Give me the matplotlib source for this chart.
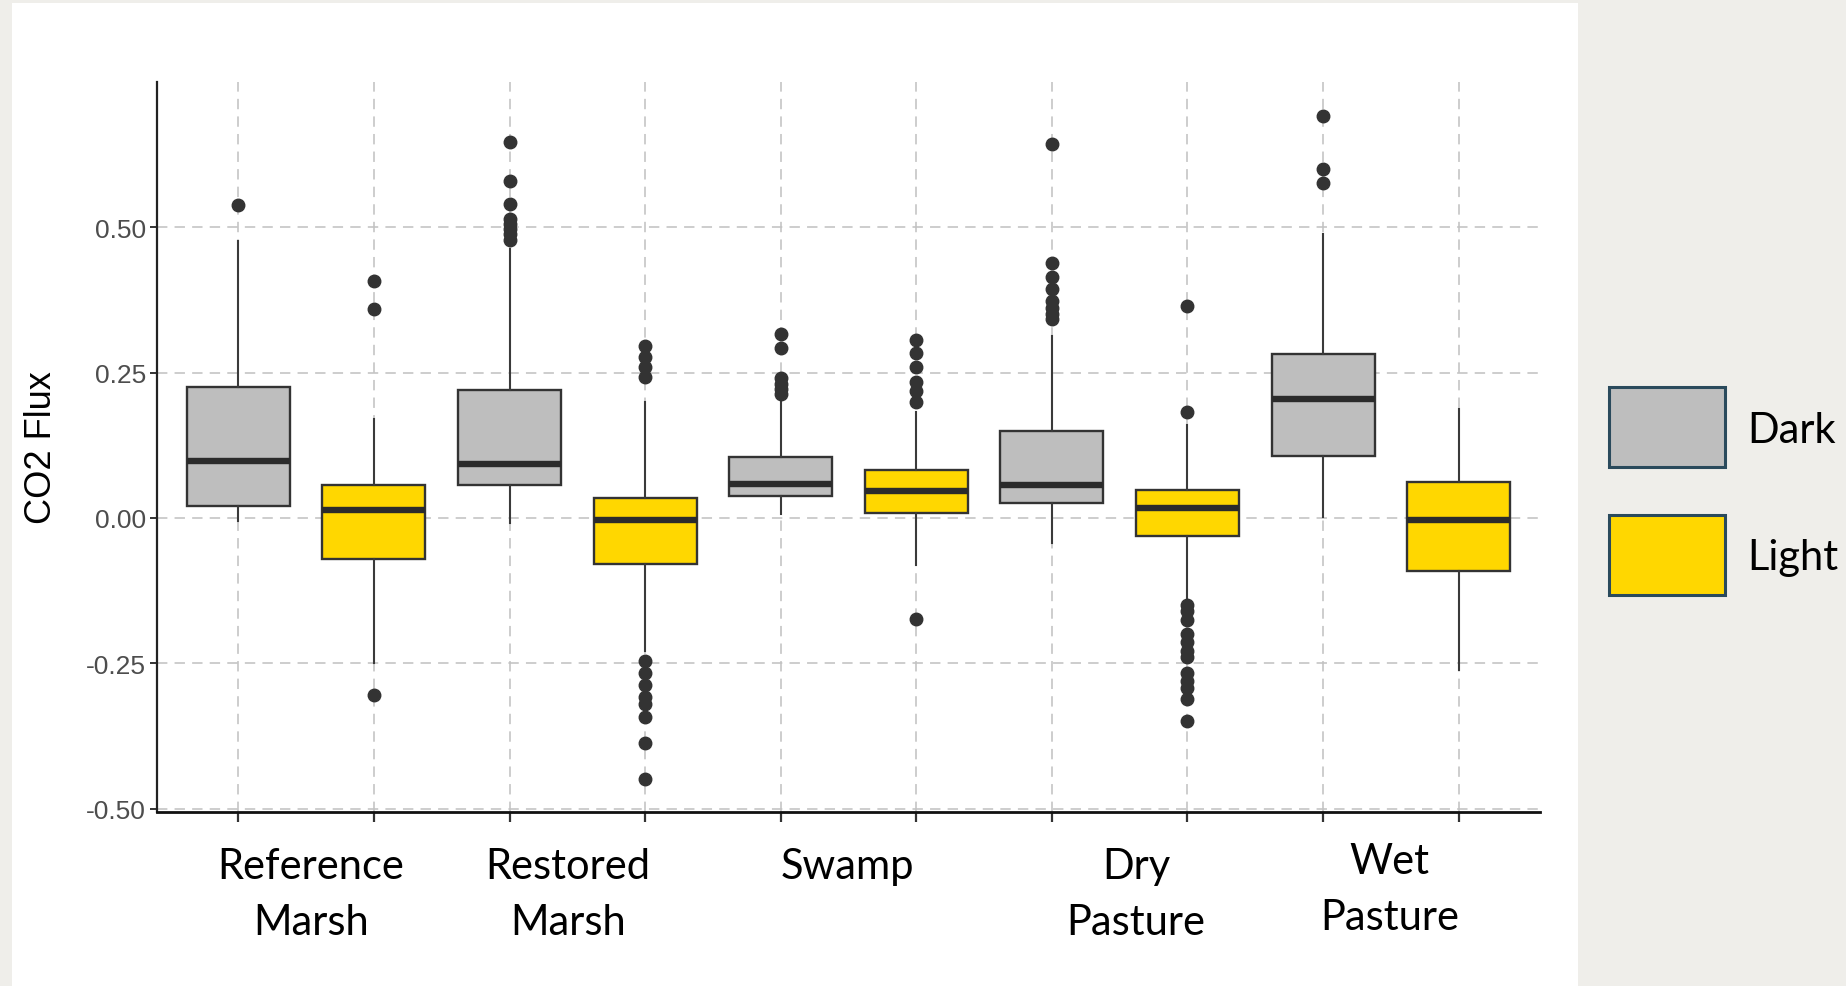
import matplotlib
matplotlib.use("Agg")
import matplotlib.pyplot as plt
from matplotlib.patches import Rectangle

# ---------------- data ----------------
categories = ["Reference\nMarsh", "Restored\nMarsh", "Swamp", "Dry\nPasture", "Wet\nPasture"]
conditions = ["Dark", "Light"]
y_ticks = [-0.50, -0.25, 0.00, 0.25, 0.50]
y_tick_labels = ["-0.50", "-0.25", "0.00", "0.25", "0.50"]

# box order: category-by-category, Dark then Light
whisker_low = [-0.005, -0.249, -0.008, -0.229, 0.007, -0.081, -0.043, -0.140, 0.001, -0.262]
q1 = [0.021, -0.070, 0.056, -0.079, 0.038, 0.009, 0.026, -0.031, 0.107, -0.092]
median = [0.098, 0.013, 0.092, -0.004, 0.058, 0.046, 0.057, 0.017, 0.204, -0.003]
q3 = [0.225, 0.057, 0.220, 0.034, 0.105, 0.083, 0.150, 0.048, 0.282, 0.062]
whisker_high = [0.476, 0.170, 0.462, 0.199, 0.201, 0.183, 0.313, 0.159, 0.488, 0.187]
outliers = [
    [0.538],
    [0.408, 0.360, -0.305],
    [0.647, 0.580, 0.540, 0.514, 0.505, 0.497, 0.489, 0.479],
    [0.296, 0.276, 0.259, 0.242, -0.246, -0.267, -0.287, -0.308, -0.320, -0.343, -0.387, -0.449],
    [0.317, 0.292, 0.240, 0.231, 0.222, 0.214],
    [0.306, 0.283, 0.259, 0.233, 0.219, 0.199, -0.174],
    [0.644, 0.439, 0.414, 0.393, 0.373, 0.362, 0.351, 0.342],
    [0.365, 0.183, -0.149, -0.161, -0.176, -0.199, -0.214, -0.229, -0.240, -0.267,
     -0.281, -0.293, -0.311, -0.350],
    [0.692, 0.600, 0.577],
    [],
]

# ---------------- style ----------------
W, H = 1846, 987
condition_colors = {"Dark": "#BEBEBE", "Light": "#FFD700"}
edge = "#333333"
label_font = "Lato"
axis_font = "Liberation Sans"

fig = plt.figure(figsize=(W / 100, H / 100), dpi=100)
fig.patch.set_facecolor("#EFEEEA")
# white slide panel
fig.patches.append(Rectangle((12 / W, 0), (1578 - 12) / W, 1 - 4 / H,
                             transform=fig.transFigure, facecolor="white",
                             edgecolor="none", zorder=-5))

left, right, top, bottom = 157, 1540, 83, 813
ax = fig.add_axes([left / W, 1 - bottom / H, (right - left) / W, (bottom - top) / H])
ax.set_facecolor("none")
ax.set_zorder(1)

n_boxes = len(median)
positions = list(range(1, n_boxes + 1))
box_conditions = [conditions[i % 2] for i in range(n_boxes)]

stats = []
for i in range(n_boxes):
    stats.append(dict(med=median[i], q1=q1[i], q3=q3[i],
                      whislo=whisker_low[i], whishi=whisker_high[i],
                      fliers=outliers[i]))

bp = ax.bxp(stats, positions=positions, widths=0.76, patch_artist=True,
            showcaps=False,
            boxprops=dict(edgecolor=edge, linewidth=1.7),
            medianprops=dict(color="#2B2B2B", linewidth=4.6, solid_capstyle="butt"),
            whiskerprops=dict(color="#3A3A3A", linewidth=1.5),
            flierprops=dict(marker="o", markerfacecolor=edge, markeredgecolor=edge,
                            markersize=9, linestyle="none"))
for patch, cond in zip(bp["boxes"], box_conditions):
    patch.set_facecolor(condition_colors[cond])

ax.set_xlim(0.4, n_boxes + 0.6)
ax.set_ylim(-0.506, 0.75)
ax.set_xticks(positions)
ax.set_xticklabels([""] * n_boxes)
ax.set_yticks(y_ticks)
ax.set_yticklabels(y_tick_labels, fontsize=19, color="#4D4D4D", family=axis_font)

ax.set_axisbelow(True)
ax.grid(True, color="#C2C2C2", linestyle=(0, (6.5, 4.5)), linewidth=1.15)

for s in ["top", "right"]:
    ax.spines[s].set_visible(False)
ax.spines["left"].set_linewidth(1.6)
ax.spines["left"].set_color("#222222")
ax.spines["bottom"].set_linewidth(2.0)
ax.spines["bottom"].set_color("#111111")
ax.tick_params(axis="y", length=5, width=1.4, color="#333333", pad=3)
ax.tick_params(axis="x", length=7, width=1.6, color="#333333")

ax.set_ylabel("CO2 Flux", fontsize=26, family=axis_font, color="black")
ax.yaxis.set_label_coords(-0.0705, 0.5)

# category labels, centred under each Dark/Light pair
label_x = [1.535, 3.43, 5.495, 7.62, 9.49]
for name, xc in zip(categories, label_x):
    lines = name.split("\n")
    base = 874 if name.startswith("Wet") else 879
    for k, line in enumerate(lines):
        ax.text(xc, 1 - (base + 56 * k - top) / (bottom - top),
                line, transform=ax.get_xaxis_transform(), ha="center", va="baseline",
                fontsize=30, family=label_font, color="black", clip_on=False)

# legend drawn in the grey margin
leg_boxes = [(388, 468), (516, 596)]
leg_baselines = [443, 570]
for cond, (y0, y1), yb in zip(conditions, leg_boxes, leg_baselines):
    fig.patches.append(Rectangle((1609 / W, 1 - y1 / H), (1725 - 1609) / W, (y1 - y0) / H,
                                 transform=fig.transFigure,
                                 facecolor=condition_colors[cond], edgecolor="#2A4A5C",
                                 linewidth=2.2, zorder=2))
    fig.text(1747 / W, 1 - yb / H, cond, fontsize=30, family=label_font,
             ha="left", va="baseline", color="black")

fig.savefig("out.png", dpi=100, facecolor=fig.get_facecolor())
